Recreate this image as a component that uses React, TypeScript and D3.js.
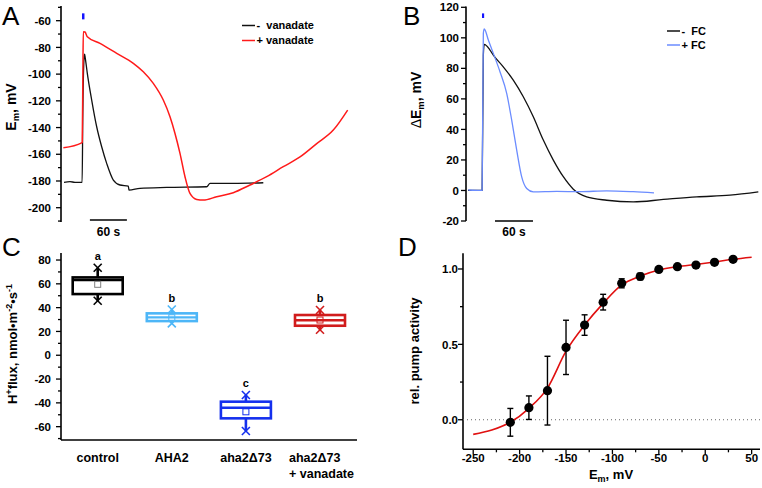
import React from 'react';
import * as d3 from 'd3';

const FONT = "'Liberation Sans', Arial, Helvetica, sans-serif";

// ---------- Panel A data (time s, Em mV) ----------
const aBlackTrace: [number, number][] = [
  [0, -181], [9.7, -180.5], [17.8, -181], [28.7, -181], [29.4, -181], [30.5, -130], [32.5, -88], [33.4, -85],
  [34.5, -88], [37.8, -99.4], [44.9, -119.4], [53, -139.4], [61.1, -154.4], [69.2, -166.8], [80, -179.3],
  [90.8, -183], [104.3, -183.8], [105.4, -186.8], [123.2, -185.5], [166.5, -184.8], [231.4, -184.3],
  [236.8, -181.8], [274.5, -181.8], [323.2, -181.3],
];
const aRedTrace: [number, number][] = [
  [-1, -155.1], [28.7, -151.4], [29.6, -151], [30.6, -100], [31.3, -68.2], [34, -68.5], [37.8, -72],
  [58.4, -77], [85.5, -84.4], [112.4, -91.9], [128.6, -98.2], [144.8, -106.9], [161, -119.4], [171.9, -131.9],
  [180, -144.4], [188.1, -159.3], [196.2, -176.8], [204.3, -189.3], [215.2, -193.8], [225.9, -194.3],
  [247.6, -191.8], [274.5, -188.8], [301.6, -183], [328.7, -176.8], [355.6, -169.3], [382.7, -162],
  [409.8, -152], [436.7, -141.9], [460, -126.9],
];
const aTicks = [-200, -180, -160, -140, -120, -100, -80, -60];
const aMinor = [-210, -190, -170, -150, -130, -110, -90, -70, -50];
const aStim = [29.2, 33.2];
const aScaleBar = [42, 102];
const aLegend = ['-  vanadate', '+ vanadate'];

// ---------- Panel B data (time s, dEm mV) ----------
const bBlackTrace: [number, number][] = [
  [0, 0], [20.5, 0], [22.3, 0], [24.2, 88.7], [25.7, 95.7], [34.7, 92], [40, 88.7], [55.7, 81], [71.5, 72.3],
  [87.3, 61.4], [103.1, 48.3], [118.9, 33], [134.7, 19.9], [150.5, 9], [166.3, 0.85], [187.4, -4.2],
  [219, -6.4], [261, -7.5], [308.4, -5.9], [361.1, -4.2], [413.7, -3.1], [458.4, -0.9],
];
const bBlueTrace: [number, number][] = [
  [0.5, 0.3], [20.5, 0], [22.3, 0], [24.2, 103], [25.7, 105.8], [32.1, 98.6], [40, 89.8], [50.5, 77.8],
  [61.1, 63.6], [69, 46.1], [76.9, 26.4], [84.8, 8.9], [92.7, 1.3], [103.1, -0.9], [140, -0.6],
  [176.8, -0.8], [219, -0.2], [261, -0.8], [293.7, -1.6],
];
const bTicks = [-20, 0, 20, 40, 60, 80, 100, 120];
const bMinor = [-10, 10, 30, 50, 70, 90, 110];
const bStim = [22.1, 25.5];
const bScaleBar = [42.6, 102.6];
const bLegend = ['-  FC', '+ FC'];

// ---------- Panel C data ----------
const cCategories = ['control', 'AHA2', 'aha2Δ73', 'aha2Δ73 + vanadate'];
const cLabelLines = [['control'], ['AHA2'], ['aha2Δ73'], ['aha2Δ73', '+ vanadate']];
const cMin = [45.8, 26.8, -63.6, 21.4];
const cQ1 = [51.4, 28.7, -53, 24.8];
const cMedian = [63.2, 31.8, -44.1, 29.4];
const cQ3 = [65.4, 35.2, -39, 33.8];
const cMax = [73.5, 38.4, -33.4, 38];
const cMean = [59.6, 31.5, -47.5, 29.6];
const cLetters = ['a', 'b', 'c', 'b'];
const cColors = ['#000000', '#4db6f7', '#1530ee', '#d11c1c'];
const cMeanColors = ['#808080', '#4db6f7', '#1530ee', '#d11c1c'];
const cTicks = [-60, -40, -20, 0, 20, 40, 60, 80];
const cMinor = [-70, -50, -30, -10, 10, 30, 50, 70];

// ---------- Panel D data ----------
const dVoltage = [-210, -190, -170, -150, -130, -110, -90, -70, -50, -30, -10, 10, 30];
const dActivity = [-0.017, 0.08, 0.193, 0.48, 0.628, 0.78, 0.905, 0.95, 0.997, 1.015, 1.026, 1.044, 1.064];
const dError = [0.092, 0.078, 0.228, 0.18, 0.068, 0.052, 0.03, 0.022, 0.012, 0.012, 0.012, 0.012, 0.015];
const dFitV = [-250, -230, -210, -190, -170, -150, -130, -110, -90, -70, -50, -30, -10, 10, 30, 50];
const dFitY = [-0.097, -0.068, -0.017, 0.076, 0.21, 0.455, 0.628, 0.772, 0.894, 0.953, 0.993, 1.015, 1.03, 1.046, 1.064, 1.078];
const dXTicks = [-250, -200, -150, -100, -50, 0, 50];
const dXMinor = [-225, -175, -125, -75, -25, 25];
const dYTicks = [0, 0.5, 1.0];
const dYMinor = [0.25, 0.75];

type Sc = (v: number) => number;

const YAxis = ({ scale, x, y0, y1, major, minor, fmt, gap }: { scale: Sc; x: number; y0: number; y1: number; major: number[]; minor: number[]; fmt: (v: number) => string; gap: number }) => (
  <g>
    <line x1={x} x2={x} y1={y0} y2={y1} stroke="#000" strokeWidth={1.6} />
    {minor.map((v) => (
      <line key={'m' + v} x1={x - 3} x2={x} y1={scale(v)} y2={scale(v)} stroke="#000" strokeWidth={1.3} />
    ))}
    {major.map((v) => (
      <g key={'M' + v}>
        <line x1={x - 5} x2={x} y1={scale(v)} y2={scale(v)} stroke="#000" strokeWidth={1.3} />
        <text x={x - gap} y={scale(v)} dy="0.36em" textAnchor="end" fontSize={11.5} fontWeight="bold" fontFamily={FONT}>
          {fmt(v)}
        </text>
      </g>
    ))}
  </g>
);

const Legend = ({ x, y, labels, colors, dy }: { x: number; y: number; labels: string[]; colors: string[]; dy: number }) => (
  <g>
    {labels.map((l, i) => (
      <g key={l}>
        <line x1={x} x2={x + 13} y1={y + i * dy} y2={y + i * dy} stroke={colors[i]} strokeWidth={1.5} />
        <text x={x + 14.5} y={y + i * dy} dy="0.36em" fontSize={11} fontWeight="bold" fontFamily={FONT} xmlSpace="preserve">
          {l}
        </text>
      </g>
    ))}
  </g>
);

export default function App() {
  // Panel A scales
  const xA = d3.scaleLinear().domain([0, 60]).range([64, 101]);
  const yA = d3.scaleLinear().domain([-210.7, -49]).range([222, 6]);
  const lineA = d3.line<[number, number]>().x((d) => xA(d[0])).y((d) => yA(d[1])).curve(d3.curveMonotoneX);

  // Panel B scales
  const xB = d3.scaleLinear().domain([0, 60]).range([468, 506]);
  const yB = d3.scaleLinear().domain([-20, 120]).range([221, 7.3]);
  const lineB = d3.line<[number, number]>().x((d) => xB(d[0])).y((d) => yB(d[1])).curve(d3.curveMonotoneX);

  // Panel C scales
  const xC = d3.scalePoint<string>().domain(cCategories).range([97.7, 320]);
  const yC = d3.scaleLinear().domain([-71.2, 85.9]).range([440, 253]);
  const boxW = 50;

  // Panel D scales
  const xD = d3.scaleLinear().domain([-261, 59]).range([463, 760]);
  const yD = d3.scaleLinear().domain([-0.196, 1.104]).range([449.3, 253.3]);
  const fitLine = d3.line<number>().x((_, i) => xD(dFitV[i])).y((d) => yD(d)).curve(d3.curveMonotoneX);

  const txt = { fontFamily: FONT, fontWeight: 'bold' as const };

  return (
    <svg width={762} height={488} style={{ position: 'absolute', left: 0, top: 0, background: '#fff' }}>
      {/* ===== Panel A ===== */}
      <text x={2} y={25} fontSize={26} fontFamily={FONT}>A</text>
      <YAxis scale={yA} x={61} y0={6} y1={222} major={aTicks} minor={aMinor} fmt={(v) => String(v)} gap={10} />
      <text transform="translate(16,107) rotate(-90)" textAnchor="middle" fontSize={14} {...txt}>
        E<tspan fontSize={9.5} dy={3}>m</tspan><tspan dy={-3}>, mV</tspan>
      </text>
      <rect x={xA(aStim[0])} width={xA(aStim[1]) - xA(aStim[0])} y={yA(-54.5)} height={yA(-59) - yA(-54.5)} fill="#1414ff" />
      <path d={lineA(aBlackTrace) || ''} fill="none" stroke="#111" strokeWidth={1.3} />
      <path d={lineA(aRedTrace) || ''} fill="none" stroke="#ff1a1a" strokeWidth={1.5} />
      <line x1={xA(aScaleBar[0])} x2={xA(aScaleBar[1])} y1={220} y2={220} stroke="#000" strokeWidth={1.4} />
      <text x={(xA(aScaleBar[0]) + xA(aScaleBar[1])) / 2} y={236} textAnchor="middle" fontSize={12} {...txt}>60 s</text>
      <Legend x={242} y={25.5} labels={aLegend} colors={['#111', '#ff1a1a']} dy={15} />

      {/* ===== Panel B ===== */}
      <text x={403} y={25} fontSize={26} fontFamily={FONT}>B</text>
      <YAxis scale={yB} x={466} y0={6.5} y1={221} major={bTicks} minor={bMinor} fmt={(v) => String(v)} gap={7} />
      <text transform="translate(421,100) rotate(-90)" textAnchor="middle" fontSize={14} {...txt}>
        <tspan fontWeight="normal">Δ</tspan>E<tspan fontSize={9.5} dy={3}>m</tspan><tspan dy={-3}>, mV</tspan>
      </text>
      <rect x={xB(bStim[0])} width={xB(bStim[1]) - xB(bStim[0])} y={yB(116)} height={yB(113) - yB(116)} fill="#1414ff" />
      <path d={lineB(bBlackTrace) || ''} fill="none" stroke="#111" strokeWidth={1.3} />
      <path d={lineB(bBlueTrace) || ''} fill="none" stroke="#6b8cff" strokeWidth={1.3} />
      <line x1={xB(bScaleBar[0])} x2={xB(bScaleBar[1])} y1={221} y2={221} stroke="#000" strokeWidth={1.4} />
      <text x={(xB(bScaleBar[0]) + xB(bScaleBar[1])) / 2} y={236} textAnchor="middle" fontSize={12} {...txt}>60 s</text>
      <Legend x={667} y={31} labels={bLegend} colors={['#111', '#6b8cff']} dy={14} />

      {/* ===== Panel C ===== */}
      <text x={2} y={256} fontSize={26} fontFamily={FONT}>C</text>
      <YAxis scale={yC} x={61} y0={253} y1={440} major={cTicks} minor={cMinor} fmt={(v) => String(v)} gap={10} />
      <line x1={61} x2={357} y1={440} y2={440} stroke="#000" strokeWidth={1.6} />
      <text transform="translate(17,344) rotate(-90)" textAnchor="middle" fontSize={13} {...txt}>
        H<tspan fontSize={9} dy={-5}>+</tspan><tspan dy={5}>flux, nmol•m</tspan><tspan fontSize={9} dy={-5}>-2</tspan>
        <tspan dy={5}>•s</tspan><tspan fontSize={9} dy={-5}>-1</tspan>
      </text>
      {cCategories.map((c, i) => {
        const cx = xC(c) as number;
        const col = cColors[i];
        const x0 = cx - boxW / 2;
        const cross = (v: number) => (
          <g>
            <line x1={cx - 4} x2={cx + 4} y1={yC(v) - 4} y2={yC(v) + 4} stroke={col} strokeWidth={1.6} />
            <line x1={cx - 4} x2={cx + 4} y1={yC(v) + 4} y2={yC(v) - 4} stroke={col} strokeWidth={1.6} />
          </g>
        );
        return (
          <g key={c}>
            <line x1={cx} x2={cx} y1={yC(cMax[i])} y2={yC(cQ3[i])} stroke={col} strokeWidth={2.6} />
            <line x1={cx} x2={cx} y1={yC(cQ1[i])} y2={yC(cMin[i])} stroke={col} strokeWidth={2.6} />
            {cross(cMax[i])}
            {cross(cMin[i])}
            <rect x={x0} width={boxW} y={yC(cQ3[i])} height={yC(cQ1[i]) - yC(cQ3[i])} fill="#fff" stroke={col} strokeWidth={2.6} />
            <line x1={x0} x2={x0 + boxW} y1={yC(cMedian[i])} y2={yC(cMedian[i])} stroke={col} strokeWidth={2.4} />
            <rect x={cx - 3} y={yC(cMean[i]) - 3} width={6} height={6} fill="none" stroke={cMeanColors[i]} strokeWidth={1} />
            <text x={cx} y={yC(cMax[i]) - 8} textAnchor="middle" fontSize={11} {...txt}>{cLetters[i]}</text>
            {cLabelLines[i].map((ln, j) => (
              <text
                key={ln}
                x={cLabelLines[i].length > 1 ? cx - 31 : cx}
                y={462 + j * 15.5}
                textAnchor={cLabelLines[i].length > 1 ? 'start' : 'middle'}
                fontSize={12.5}
                {...txt}
              >
                {ln}
              </text>
            ))}
          </g>
        );
      })}

      {/* ===== Panel D ===== */}
      <text x={398} y={256} fontSize={26} fontFamily={FONT}>D</text>
      <YAxis scale={yD} x={463} y0={253.3} y1={449.3} major={dYTicks} minor={dYMinor} fmt={(v) => v.toFixed(1)} gap={5} />
      <line x1={463} x2={760} y1={449.3} y2={449.3} stroke="#000" strokeWidth={1.6} />
      {dXMinor.map((v) => (
        <line key={'dm' + v} x1={xD(v)} x2={xD(v)} y1={449.3} y2={452.3} stroke="#000" strokeWidth={1.3} />
      ))}
      {dXTicks.map((v) => (
        <g key={'dx' + v}>
          <line x1={xD(v)} x2={xD(v)} y1={449.3} y2={454.3} stroke="#000" strokeWidth={1.3} />
          <text x={xD(v)} y={462} textAnchor="middle" fontSize={11.5} {...txt}>{String(v)}</text>
        </g>
      ))}
      <text x={611} y={479} textAnchor="middle" fontSize={13} {...txt}>
        E<tspan fontSize={9} dy={3}>m</tspan><tspan dy={-3}>, mV</tspan>
      </text>
      <text transform="translate(419,351) rotate(-90)" textAnchor="middle" fontSize={13} {...txt}>rel. pump activity</text>
      <line x1={463} x2={760} y1={yD(0)} y2={yD(0)} stroke="#666" strokeWidth={1} strokeDasharray="1,3" />
      <path d={fitLine(dFitY) || ''} fill="none" stroke="#e01010" strokeWidth={1.6} />
      {dVoltage.map((v, i) => {
        const x = xD(v);
        const yt = yD(dActivity[i] + dError[i]);
        const yb = yD(dActivity[i] - dError[i]);
        return (
          <g key={'p' + v}>
            <line x1={x} x2={x} y1={yt} y2={yb} stroke="#000" strokeWidth={1.4} />
            <line x1={x - 3} x2={x + 3} y1={yt} y2={yt} stroke="#000" strokeWidth={1.4} />
            <line x1={x - 3} x2={x + 3} y1={yb} y2={yb} stroke="#000" strokeWidth={1.4} />
            <circle cx={x} cy={yD(dActivity[i])} r={4.6} fill="#000" />
          </g>
        );
      })}
    </svg>
  );
}
